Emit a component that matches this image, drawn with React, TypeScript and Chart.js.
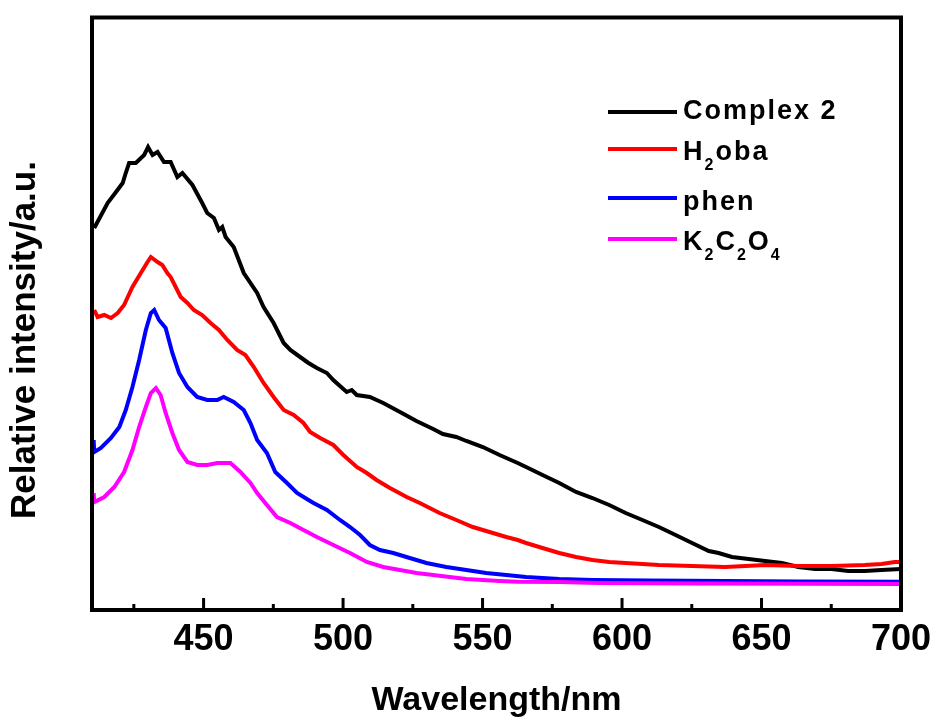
import React, { useEffect, useRef } from "react";
import { Chart, registerables } from "chart.js";

Chart.register(...registerables);

const FONT = '"Liberation Sans", Arial, Helvetica, sans-serif';

// ---- axes ----
const xTickValues = [450, 500, 550, 600, 650, 700];
const xMinorTickValues = [425, 475, 525, 575, 625, 675];
const xTitle = "Wavelength/nm";
const yTitle = "Relative intensity/a.u.";

// ---- series (wavelength / relative intensity, a.u.) ----
const complex2Wl = [410.8, 415.6, 418.6, 421.0, 422.1, 423.3, 425.7, 428.7, 430.1, 431.7, 433.5, 435.8, 438.2, 440.6, 442.4, 446.0, 449.5, 451.3, 453.7, 455.5, 456.7, 457.9, 460.8, 464.4, 469.2, 471.5, 475.1, 478.7, 481.1, 484.6, 487.6, 490.6, 494.2, 496.5, 501.3, 503.1, 504.9, 509.6, 514.4, 520.4, 526.3, 532.3, 535.8, 540.6, 544.2, 550.1, 556.1, 562.6, 565.6, 571.5, 577.5, 583.5, 589.4, 595.4, 601.3, 607.3, 613.2, 619.2, 625.1, 631.1, 634.6, 639.4, 645.4, 651.3, 657.3, 663.2, 669.2, 675.1, 681.1, 687.0, 693.0, 700];
const complex2Int = [382, 407, 418, 427, 437, 447, 447, 455, 463, 455, 458, 448, 448, 433, 437, 425, 407, 397, 392, 380, 383, 373, 363, 337, 317, 303, 287, 267, 260, 253, 247, 242, 237, 230, 218, 220, 215, 213, 207, 198, 189, 181, 176, 173, 169, 163, 155, 147, 143, 135, 127, 118, 112, 105, 97, 90, 83, 75, 67, 59, 57, 53, 51, 49, 47, 43, 41, 41, 39, 39, 40, 41];

const h2obaWl = [410.8, 412.0, 414.4, 416.8, 419.2, 421.5, 424.5, 427.5, 429.9, 431.1, 433.5, 435.2, 437.0, 438.2, 440.0, 441.8, 444.2, 446.5, 449.5, 452.5, 455.5, 458.5, 462.0, 465.0, 468.0, 471.5, 475.1, 478.7, 482.3, 485.8, 488.2, 491.8, 496.5, 500.1, 504.9, 508.5, 512.0, 516.8, 522.8, 527.5, 534.6, 540.6, 546.5, 552.5, 558.5, 562.6, 565.6, 571.5, 577.5, 583.5, 589.4, 595.4, 601.3, 607.3, 613.2, 625.1, 637.0, 651.3, 663.2, 675.1, 687.0, 693.0, 697.8, 700];
const h2obaInt = [300, 293, 295, 292, 297, 305, 323, 337, 348, 353, 348, 345, 337, 333, 323, 313, 307, 300, 295, 287, 280, 270, 260, 255, 243, 227, 213, 200, 195, 187, 178, 172, 165, 155, 143, 137, 130, 122, 113, 107, 97, 90, 83, 78, 73, 70, 67, 62, 57, 53, 50, 48, 47, 46, 45, 44, 43, 45, 44, 44, 45, 46, 48, 48];

const phenWl = [410.6, 410.8, 413.2, 416.8, 419.8, 422.1, 424.5, 426.9, 429.3, 431.1, 432.3, 434.0, 436.4, 438.8, 441.2, 444.2, 447.7, 451.3, 454.9, 457.2, 460.8, 464.4, 466.8, 469.2, 472.7, 475.7, 479.9, 483.5, 487.6, 489.4, 494.2, 498.9, 502.5, 506.1, 509.6, 513.2, 518.0, 523.9, 529.9, 537.0, 544.2, 551.3, 558.5, 565.6, 571.5, 577.5, 589.4, 609.6, 637.0, 663.2, 700];
const phenInt = [170, 158, 162, 172, 183, 200, 223, 250, 280, 297, 300, 290, 282, 257, 237, 223, 213, 210, 210, 213, 208, 200, 187, 170, 157, 138, 127, 117, 110, 107, 100, 90, 83, 75, 65, 60, 57, 52, 47, 43, 40, 37, 35, 33, 32, 31, 30, 29.5, 29, 28.5, 28.3];

const k2c2o4Wl = [410.6, 410.8, 414.4, 418.0, 421.5, 424.5, 426.9, 429.3, 431.1, 432.9, 434.6, 436.4, 438.8, 441.2, 444.2, 447.7, 451.3, 454.9, 459.6, 463.2, 466.8, 469.2, 472.7, 476.3, 481.1, 485.8, 490.6, 496.5, 502.5, 508.5, 514.4, 520.4, 526.3, 532.3, 538.2, 544.2, 550.1, 556.1, 562.6, 577.5, 591.8, 627.5, 700];
const k2c2o4Int = [117, 108, 113, 123, 138, 160, 183, 203, 217, 222, 215, 197, 177, 160, 148, 145, 145, 147, 147, 138, 127, 117, 105, 93, 87, 80, 73, 65, 57, 48, 43, 40, 37, 35, 33, 31, 30, 29, 28.3, 28, 27, 26.5, 26];

// legend labels as text segments ("sub" = subscript)
const seriesLabels = [
  [{ t: "Complex 2" }],
  [{ t: "H" }, { t: "2", sub: true }, { t: "oba" }],
  [{ t: "phen" }],
  [{ t: "K" }, { t: "2", sub: true }, { t: "C" }, { t: "2", sub: true }, { t: "O" }, { t: "4", sub: true }],
];
const seriesColors = ["#000000", "#ff0000", "#0000ff", "#ff00ff"];

const toPoints = (xs: number[], ys: number[]) => xs.map((x, i) => ({ x, y: ys[i] }));

const framePlugin = {
  id: "frame",
  afterDraw(chart: any) {
    const { ctx, chartArea, scales } = chart;
    const { left, right, top, bottom } = chartArea;
    const x = scales.x;
    ctx.save();
    // frame
    ctx.strokeStyle = "#000";
    ctx.lineWidth = 4;
    ctx.strokeRect(left, top, right - left, bottom - top);
    // inward ticks
    ctx.lineWidth = 3;
    ctx.beginPath();
    for (const v of xTickValues) {
      const px = x.getPixelForValue(v);
      if (px >= right - 2) continue;
      ctx.moveTo(px, bottom);
      ctx.lineTo(px, bottom - 12);
    }
    for (const v of xMinorTickValues) {
      const px = x.getPixelForValue(v);
      ctx.moveTo(px, bottom);
      ctx.lineTo(px, bottom - 6);
    }
    ctx.stroke();
    // y title
    ctx.save();
    ctx.translate(25, 340);
    ctx.rotate(-Math.PI / 2);
    ctx.fillStyle = "#000";
    ctx.font = `bold 35px ${FONT}`;
    ctx.textAlign = "center";
    ctx.textBaseline = "middle";
    ctx.fillText(yTitle, 0, 0);
    ctx.restore();
    // legend
    const lineYs = [112, 149, 198, 239];
    const baseYs = [119, 160, 210, 250];
    seriesLabels.forEach((segs, i) => {
      ctx.strokeStyle = seriesColors[i];
      ctx.lineWidth = 4;
      ctx.beginPath();
      ctx.moveTo(608, lineYs[i]);
      ctx.lineTo(677, lineYs[i]);
      ctx.stroke();
      let tx = 683;
      ctx.fillStyle = "#000";
      ctx.textAlign = "left";
      ctx.textBaseline = "alphabetic";
      try { (ctx as any).letterSpacing = "2px"; } catch (e) {}
      for (const s of segs as any[]) {
        ctx.font = s.sub ? `bold 16px ${FONT}` : `bold 27px ${FONT}`;
        const y = s.sub ? baseYs[i] + 10 : baseYs[i];
        ctx.fillText(s.t, tx, y);
        tx += ctx.measureText(s.t).width;
      }
      try { (ctx as any).letterSpacing = "0px"; } catch (e) {}
    });
    ctx.restore();
  },
};

export default function App() {
  const ref = useRef<HTMLCanvasElement | null>(null);
  useEffect(() => {
    if (!ref.current) return;
    const lineDs = (label: string, xs: number[], ys: number[], color: string, order: number) => ({
      label,
      data: toPoints(xs, ys),
      borderColor: color,
      backgroundColor: color,
      borderWidth: 4,
      pointRadius: 0,
      tension: 0,
      fill: false,
      order,
    });
    const chart = new Chart(ref.current, {
      type: "line",
      data: {
        datasets: [
          lineDs("Complex 2", complex2Wl, complex2Int, seriesColors[0], 3),
          lineDs("H2oba", h2obaWl, h2obaInt, seriesColors[1], 2),
          lineDs("phen", phenWl, phenInt, seriesColors[2], 1),
          lineDs("K2C2O4", k2c2o4Wl, k2c2o4Int, seriesColors[3], 0),
        ],
      },
      options: {
        animation: false,
        responsive: false,
        devicePixelRatio: 1,
        layout: { padding: { left: 92, right: 32, top: 17.5, bottom: 4 } },
        plugins: { legend: { display: false }, tooltip: { enabled: false } },
        scales: {
          x: {
            type: "linear",
            min: 410,
            max: 700,
            afterBuildTicks: (scale: any) => {
              scale.ticks = xTickValues.map((v) => ({ value: v }));
            },
            afterFit: (scale: any) => {
              scale.paddingLeft = 0;
              scale.paddingRight = 0;
            },
            grid: { display: false, drawTicks: false },
            border: { display: false },
            ticks: {
              color: "#000",
              padding: 12,
              maxRotation: 0,
              autoSkip: false,
              font: { family: FONT, size: 36, weight: "bold", lineHeight: 1 },
            },
            title: {
              display: true,
              text: xTitle,
              color: "#000",
              padding: { top: 14, bottom: 0 },
              font: { family: FONT, size: 34, weight: "bold", lineHeight: 1 },
            },
          },
          y: { type: "linear", display: false, min: 0, max: 592.5 },
        },
      },
      plugins: [framePlugin],
    } as any);
    return () => chart.destroy();
  }, []);
  return (
    <div style={{ position: "absolute", left: 0, top: 0, width: 933, height: 722, background: "#fff" }}>
      <canvas ref={ref} width={933} height={722} style={{ display: "block" }} />
    </div>
  );
}
